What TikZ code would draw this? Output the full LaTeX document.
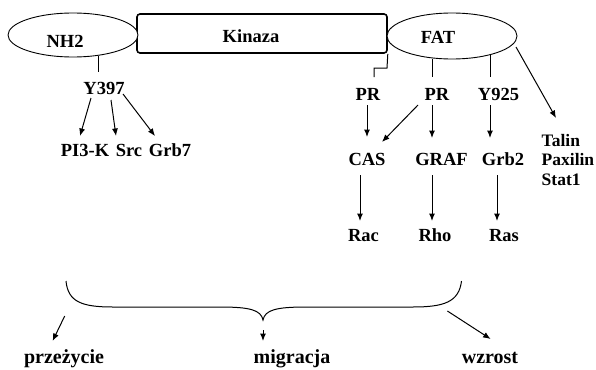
\documentclass[tikz,border=0pt]{standalone}
\usepackage{fontspec}
\setmainfont{Liberation Serif}
\usetikzlibrary{shapes.geometric,arrows.meta}
\begin{document}
\begin{tikzpicture}[x=1pt,y=-1pt,
  lbl/.style={inner sep=0pt,anchor=base,font=\fontsize{18.5}{21}\selectfont\bfseries},
  slbl/.style={lbl,anchor=base west,font=\fontsize{17.5}{20}\selectfont\bfseries},
  blbl/.style={lbl,font=\fontsize{20}{22}\selectfont\bfseries},
  oval/.style={draw,ellipse,line width=0.9pt,inner sep=0pt},
  arr/.style={line width=1pt,-{Latex[length=7.5pt,width=6pt]}},
  ln/.style={line width=1pt}]
\useasboundingbox (0,0) rectangle (596,369);
\fill[white] (0,0) rectangle (596,369);
% main bar
\node[draw,line width=1.6pt,rounded corners=3pt,minimum width=250pt,minimum height=39pt,inner sep=0pt] (kin) at (262,33.5) {};
\node[oval,fill=white,minimum width=130pt,minimum height=44pt] (nh2) at (73,35) {};
\node[oval,fill=white,minimum width=130pt,minimum height=46pt] (fat) at (452,36) {};
\node[lbl] (tnh2) at (65,48) {NH2};
\node[lbl] (tkin) at (251,42.7) {Kinaza};
\node[lbl] (tfat) at (438,44) {FAT};
% left branch
\node[lbl] (y397) at (104,94) {Y397};
\node[lbl] (pi3k) at (85,156.7) {PI3-K};
\node[lbl] (src) at (129,156.7) {Src};
\node[lbl] (grb7) at (170,156.7) {Grb7};
\coordinate (n1) at (98,56);
\coordinate (n2) at (98,72);
\draw[ln] (n1) -- (n2);
\coordinate (y1) at (91,98);
\coordinate (y2) at (111,100);
\coordinate (y3) at (123,94);
\draw[arr] (y1) -- (80,136) coordinate (p1);
\draw[arr] (y2) -- (116,136) coordinate (p2);
\draw[arr] (y3) -- (155,136) coordinate (p3);
% right branch
\node[lbl] (pr1) at (368,100) {PR};
\node[lbl] (pr2) at (437,100) {PR};
\node[lbl] (y925) at (498.5,100) {Y925};
\node[lbl] (cas) at (367,165) {CAS};
\node[lbl] (graf) at (441.5,165) {GRAF};
\node[lbl] (grb2) at (503,165) {Grb2};
\node[lbl] (rac) at (363.5,241.7) {Rac};
\node[lbl] (rho) at (435,241.7) {Rho};
\node[lbl] (ras) at (504,241.7) {Ras};
\node[slbl] (talin) at (541.5,146.7) {Talin};
\node[slbl] (paxilin) at (541.5,165.5) {Paxilin};
\node[slbl] (stat1) at (541.5,185) {Stat1};
\draw[ln] (kin.south east) -- (387,68) -- (374,68) -- (374,77) coordinate (k1);
\draw[ln] (432,58.5) coordinate (f1) -- (432,77) coordinate (f2);
\draw[ln] (490,55) coordinate (f3) -- (490,77) coordinate (f4);
\draw[arr] (516,47) coordinate (f5) -- (556,118) coordinate (f6);
\draw[arr] (367,105) coordinate (r1) -- (367,137) coordinate (r2);
\draw[arr] (418,105) coordinate (r3) -- (382,142) coordinate (r4);
\draw[arr] (432,105) coordinate (r5) -- (432,138) coordinate (r6);
\draw[arr] (490,105) coordinate (r7) -- (490,138) coordinate (r8);
\draw[arr] (360,175) coordinate (c1) -- (360,221) coordinate (c2);
\draw[arr] (432,175) coordinate (c3) -- (432,221) coordinate (c4);
\draw[arr] (497,175) coordinate (c5) -- (497,221) coordinate (c6);
% brace
\draw[ln] (66,281) coordinate (b1) .. controls (68,302) and (82,307) .. (113,307)
  -- (220,307) .. controls (250,307) and (261,310) .. (263,320) coordinate (bt)
  .. controls (265,310) and (276,307) .. (306,307)
  -- (413,307) .. controls (444,307) and (459,302) .. (461.5,281) coordinate (b2);
% outcomes
\node[blbl] (prz) at (64,363) {przeżycie};
\node[blbl] (mig) at (292,363) {migracja};
\node[blbl] (wz) at (490,363) {wzrost};
\draw[arr] (64.7,316) coordinate (o1) -- (52.6,341) coordinate (o2);
\draw[arr] (263,330) coordinate (o3) -- (263,341) coordinate (o4);
\draw[arr] (447.4,311) coordinate (o5) -- (490.6,339) coordinate (o6);
\end{tikzpicture}
\end{document}
